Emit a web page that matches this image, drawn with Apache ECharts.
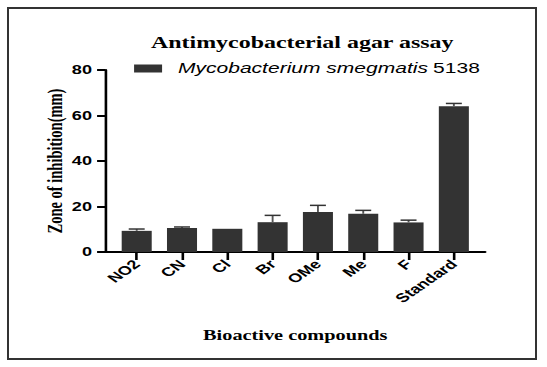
<!DOCTYPE html>
<html>
<head>
<meta charset="utf-8">
<script src="https://cdn.jsdelivr.net/npm/echarts@6/dist/echarts.min.js"></script>
<style>
  html, body { margin: 0; padding: 0; background: #fff; width: 547px; height: 367px; overflow: hidden; }
  #frame { position: absolute; left: 7px; top: 7px; width: 526px; height: 349px; border: 2px solid #333; }
  #chart { position: absolute; left: 0; top: 0; width: 377px; height: 367px; transform: scaleX(1.451); transform-origin: 0 0; }
</style>
</head>
<body>
<div id="frame"></div>
<div id="chart"></div>
<script>
// ---- data ----
const categories = ['NO2', 'CN', 'Cl', 'Br', 'OMe', 'Me', 'F', 'Standard'];
const means = [9.3, 10.5, 10.2, 13.1, 17.6, 16.8, 13.0, 64.1];
const errors = [0.8, 0.5, 0, 3.0, 2.9, 1.5, 1.0, 1.2];
const yMin = 0, yMax = 80, yStep = 20;
const seriesName = 'Mycobacterium smegmatis 5138';
const titleText = 'Antimycobacterial agar assay';
const xName = 'Bioactive compounds';
const yName = 'Zone of inhibition(mm)';

const chart = echarts.init(document.getElementById('chart'), null, { renderer: 'svg' });
const serif = 'Liberation Serif';
const sans = 'Liberation Sans';

const option = {
  animation: false,
  backgroundColor: 'transparent',
  title: {
    text: titleText,
    left: 203.3,
    top: 29,
    textAlign: 'center',
    textStyle: { fontFamily: serif, fontWeight: 'bold', fontSize: 16.5, color: '#000' }
  },
  legend: {
    data: [seriesName],
    left: 92.4,
    top: 61,
    padding: 0,
    itemWidth: 19.3,
    itemHeight: 8,
    itemGap: 0,
    icon: 'rect',
    formatter: function () { return '{i|Mycobacterium smegmatis} {n|5138}'; },
    textStyle: {
      padding: [0, 0, 0, 6],
      rich: {
        i: { fontFamily: sans, fontStyle: 'italic', fontSize: 14.5, color: '#000' },
        n: { fontFamily: sans, fontSize: 14.5, color: '#000' }
      }
    }
  },
  grid: [
    { left: 78.6, top: 70, width: 249.8, height: 182 },
    { left: 72.4, top: 70, width: 261.9, height: 182 }
  ],
  xAxis: [
    {
      type: 'category', gridIndex: 0, data: categories,
      axisLine: { show: false },
      axisTick: { show: true, alignWithLabel: true, length: 8, lineStyle: { color: '#000', width: 1.8 } },
      axisLabel: { rotate: 45, margin: 10, fontFamily: sans, fontWeight: 'bold', fontSize: 12.5, color: '#000' },
      name: xName, nameLocation: 'middle', nameGap: 76,
      nameTextStyle: { fontFamily: serif, fontWeight: 'bold', fontSize: 14, color: '#000' }
    },
    {
      type: 'value', gridIndex: 1, min: 0, max: 1,
      axisLine: { show: true, lineStyle: { color: '#000', width: 2 } },
      axisTick: { show: false }, axisLabel: { show: false }, splitLine: { show: false }
    }
  ],
  yAxis: [
    { type: 'value', gridIndex: 0, min: yMin, max: yMax, interval: yStep, show: false, splitLine: { show: false } },
    {
      type: 'value', gridIndex: 1, min: yMin, max: yMax, interval: yStep,
      axisLine: { show: true, lineStyle: { color: '#000', width: 1.8 } },
      axisTick: { show: true, length: 5.5, lineStyle: { color: '#000', width: 2 } },
      axisLabel: { margin: 9, fontFamily: sans, fontWeight: 'bold', fontSize: 12.5, color: '#000' },
      splitLine: { show: false },
      name: yName, nameLocation: 'middle', nameGap: 27, nameMoveOverlap: false,
      nameTextStyle: { fontFamily: serif, fontWeight: 'bold', fontSize: 14.5, color: '#000' }
    }
  ],
  series: [
    {
      name: seriesName, type: 'bar', xAxisIndex: 0, yAxisIndex: 0,
      data: means, barWidth: 20.7,
      itemStyle: { color: '#333333' }
    },
    {
      name: 'error', type: 'custom', xAxisIndex: 0, yAxisIndex: 0, z: 5,
      data: categories.map(function (c, i) { return [i, means[i], errors[i]]; }),
      encode: { x: 0, y: 1 },
      renderItem: function (params, api) {
        const i = api.value(0), m = api.value(1), e = api.value(2);
        if (!e) return null;
        const p0 = api.coord([i, m]);
        const p1 = api.coord([i, m + e]);
        const hw = 5.5;
        return {
          type: 'group',
          children: [
            { type: 'line', shape: { x1: p0[0], y1: p0[1], x2: p1[0], y2: p1[1] }, style: { stroke: '#555', lineWidth: 1.3 } },
            { type: 'line', shape: { x1: p1[0] - hw, y1: p1[1], x2: p1[0] + hw, y2: p1[1] }, style: { stroke: '#333', lineWidth: 1.5 } }
          ]
        };
      }
    }
  ]
};
chart.setOption(option);
</script>
</body>
</html>
